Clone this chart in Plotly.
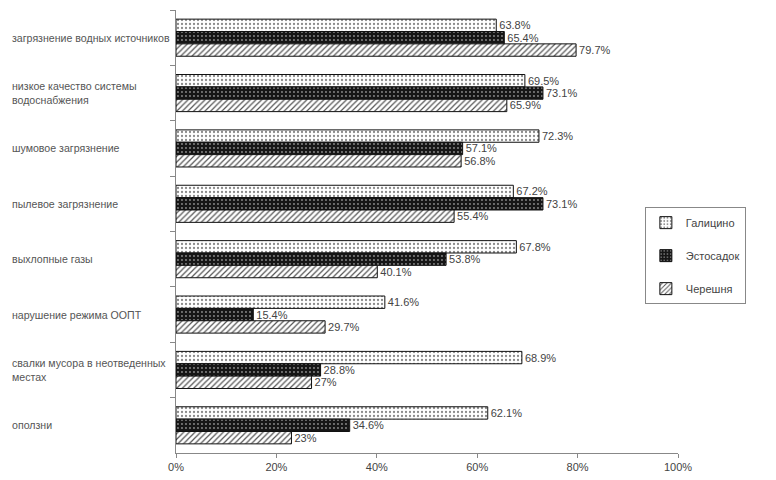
import plotly.graph_objects as go

categories = [
    "загрязнение водных источников",
    "низкое качество системы<br>водоснабжения",
    "шумовое загрязнение",
    "пылевое загрязнение",
    "выхлопные газы",
    "нарушение режима ООПТ",
    "свалки мусора в неотведенных<br>местах",
    "оползни",
]
series_names = ["Галицино", "Эстосадок", "Черешня"]
galitsino = [63.8, 69.5, 72.3, 67.2, 67.8, 41.6, 68.9, 62.1]
estosadok = [65.4, 73.1, 57.1, 73.1, 53.8, 15.4, 28.8, 34.6]
chereshnya = [79.7, 65.9, 56.8, 55.4, 40.1, 29.7, 27.0, 23.0]
x_ticks = [0, 20, 40, 60, 80, 100]
x_tick_labels = ["0%", "20%", "40%", "60%", "80%", "100%"]

series_values = [galitsino, estosadok, chereshnya]
styles = [
    dict(shape=".", bgcolor="#ffffff", fgcolor="#8a8a8a", size=4, solidity=0.25),
    dict(shape=".", bgcolor="#161616", fgcolor="#8a8a8a", size=4, solidity=0.18),
    dict(shape="/", bgcolor="#ffffff", fgcolor="#555555", size=4, solidity=0.3),
]

FONT = "Liberation Sans, Arial, sans-serif"
TXT = "#444444"

fig = go.Figure()
for name, vals, pat in zip(series_names, series_values, styles):
    fig.add_trace(go.Bar(
        name=name,
        y=categories,
        x=vals,
        orientation="h",
        legendgroup=name,
        marker=dict(
            color=pat["bgcolor"],
            line=dict(color="#111111", width=1),
            pattern=dict(fillmode="replace", **pat),
        ),
        text=[f"{v:g}%" for v in vals],
        texttemplate="%{text}",
        textposition="outside",
        constraintext="none",
        cliponaxis=False,
        textfont=dict(family=FONT, size=11, color=TXT),
        hoverinfo="skip",
    ))

for cat in categories:
    fig.add_annotation(
        x=-0.331, xref="paper", y=cat, yref="y",
        text=cat, showarrow=False, xanchor="left", yanchor="middle",
        align="left", font=dict(family=FONT, size=10.6, color="#555555"),
    )

# page body has an 8px margin, so the figure is sized/margined to compensate
fig.update_layout(
    width=768, height=472,
    margin=dict(l=168, r=98, t=2, b=27),
    paper_bgcolor="white", plot_bgcolor="white",
    barmode="group", bargap=0.33, bargroupgap=0,
    font=dict(family=FONT, size=11, color=TXT),
    xaxis=dict(
        range=[0, 100], tickvals=x_ticks, ticktext=x_tick_labels,
        showgrid=False, zeroline=False, showline=True,
        linecolor="#888888", linewidth=1, ticks="outside", ticklen=4,
        tickcolor="#888888", tickfont=dict(family=FONT, size=11, color=TXT),
    ),
    yaxis=dict(
        range=[len(categories) - 0.5, -0.5], showticklabels=False,
        showgrid=False, zeroline=False, showline=True,
        linecolor="#888888", linewidth=1, ticks="outside", ticklen=5,
        tickson="boundaries", tickcolor="#888888",
    ),
    legend=dict(
        x=0.934, y=0.555, xanchor="left", yanchor="top",
        bordercolor="#888888", borderwidth=1, bgcolor="white",
        font=dict(family=FONT, size=11, color=TXT),
        tracegroupgap=14, traceorder="grouped",
        entrywidth=88, entrywidthmode="pixels",
    ),
    showlegend=True,
)

fig.write_html("out.html")
